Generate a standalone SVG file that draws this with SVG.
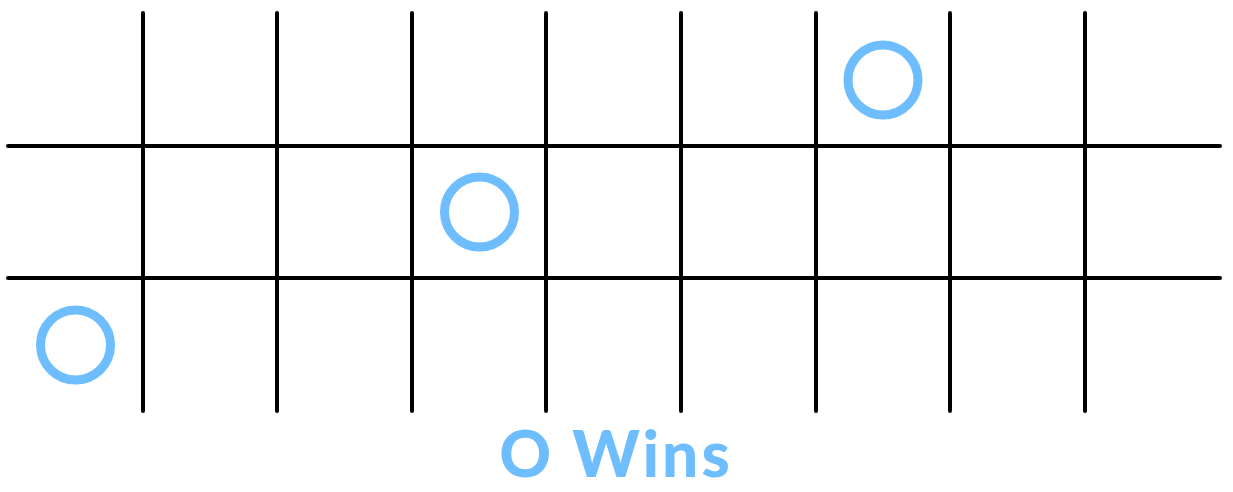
<svg xmlns="http://www.w3.org/2000/svg" width="1233" height="492" viewBox="0 0 1233 492">
<style>
.g{stroke:#000;stroke-width:4;stroke-linecap:round;fill:none}
.o{stroke:#6EBDFF;stroke-width:9;fill:none}
.t{font-family:Lato,"Open Sans",sans-serif;font-weight:900;font-size:64px;letter-spacing:3px;fill:#6EBDFF}
</style>
<g id="grid" class="g">
<line x1="143" y1="13" x2="143" y2="411"/>
<line x1="277" y1="13" x2="277" y2="411"/>
<line x1="412" y1="13" x2="412" y2="411"/>
<line x1="546" y1="13" x2="546" y2="411"/>
<line x1="681" y1="13" x2="681" y2="411"/>
<line x1="816" y1="13" x2="816" y2="411"/>
<line x1="950" y1="13" x2="950" y2="411"/>
<line x1="1085" y1="13" x2="1085" y2="411"/>
<line x1="8" y1="146" x2="1220" y2="146"/>
<line x1="8" y1="278" x2="1220" y2="278"/>
</g>
<g id="o1"><circle class="o" cx="75.5" cy="345" r="35"/></g>
<g id="o2"><circle class="o" cx="479.5" cy="212" r="35"/></g>
<g id="o3"><circle class="o" cx="883" cy="80" r="35"/></g>
<g id="label"><text class="t" x="616" y="477" text-anchor="middle">O Wins</text></g>
</svg>
